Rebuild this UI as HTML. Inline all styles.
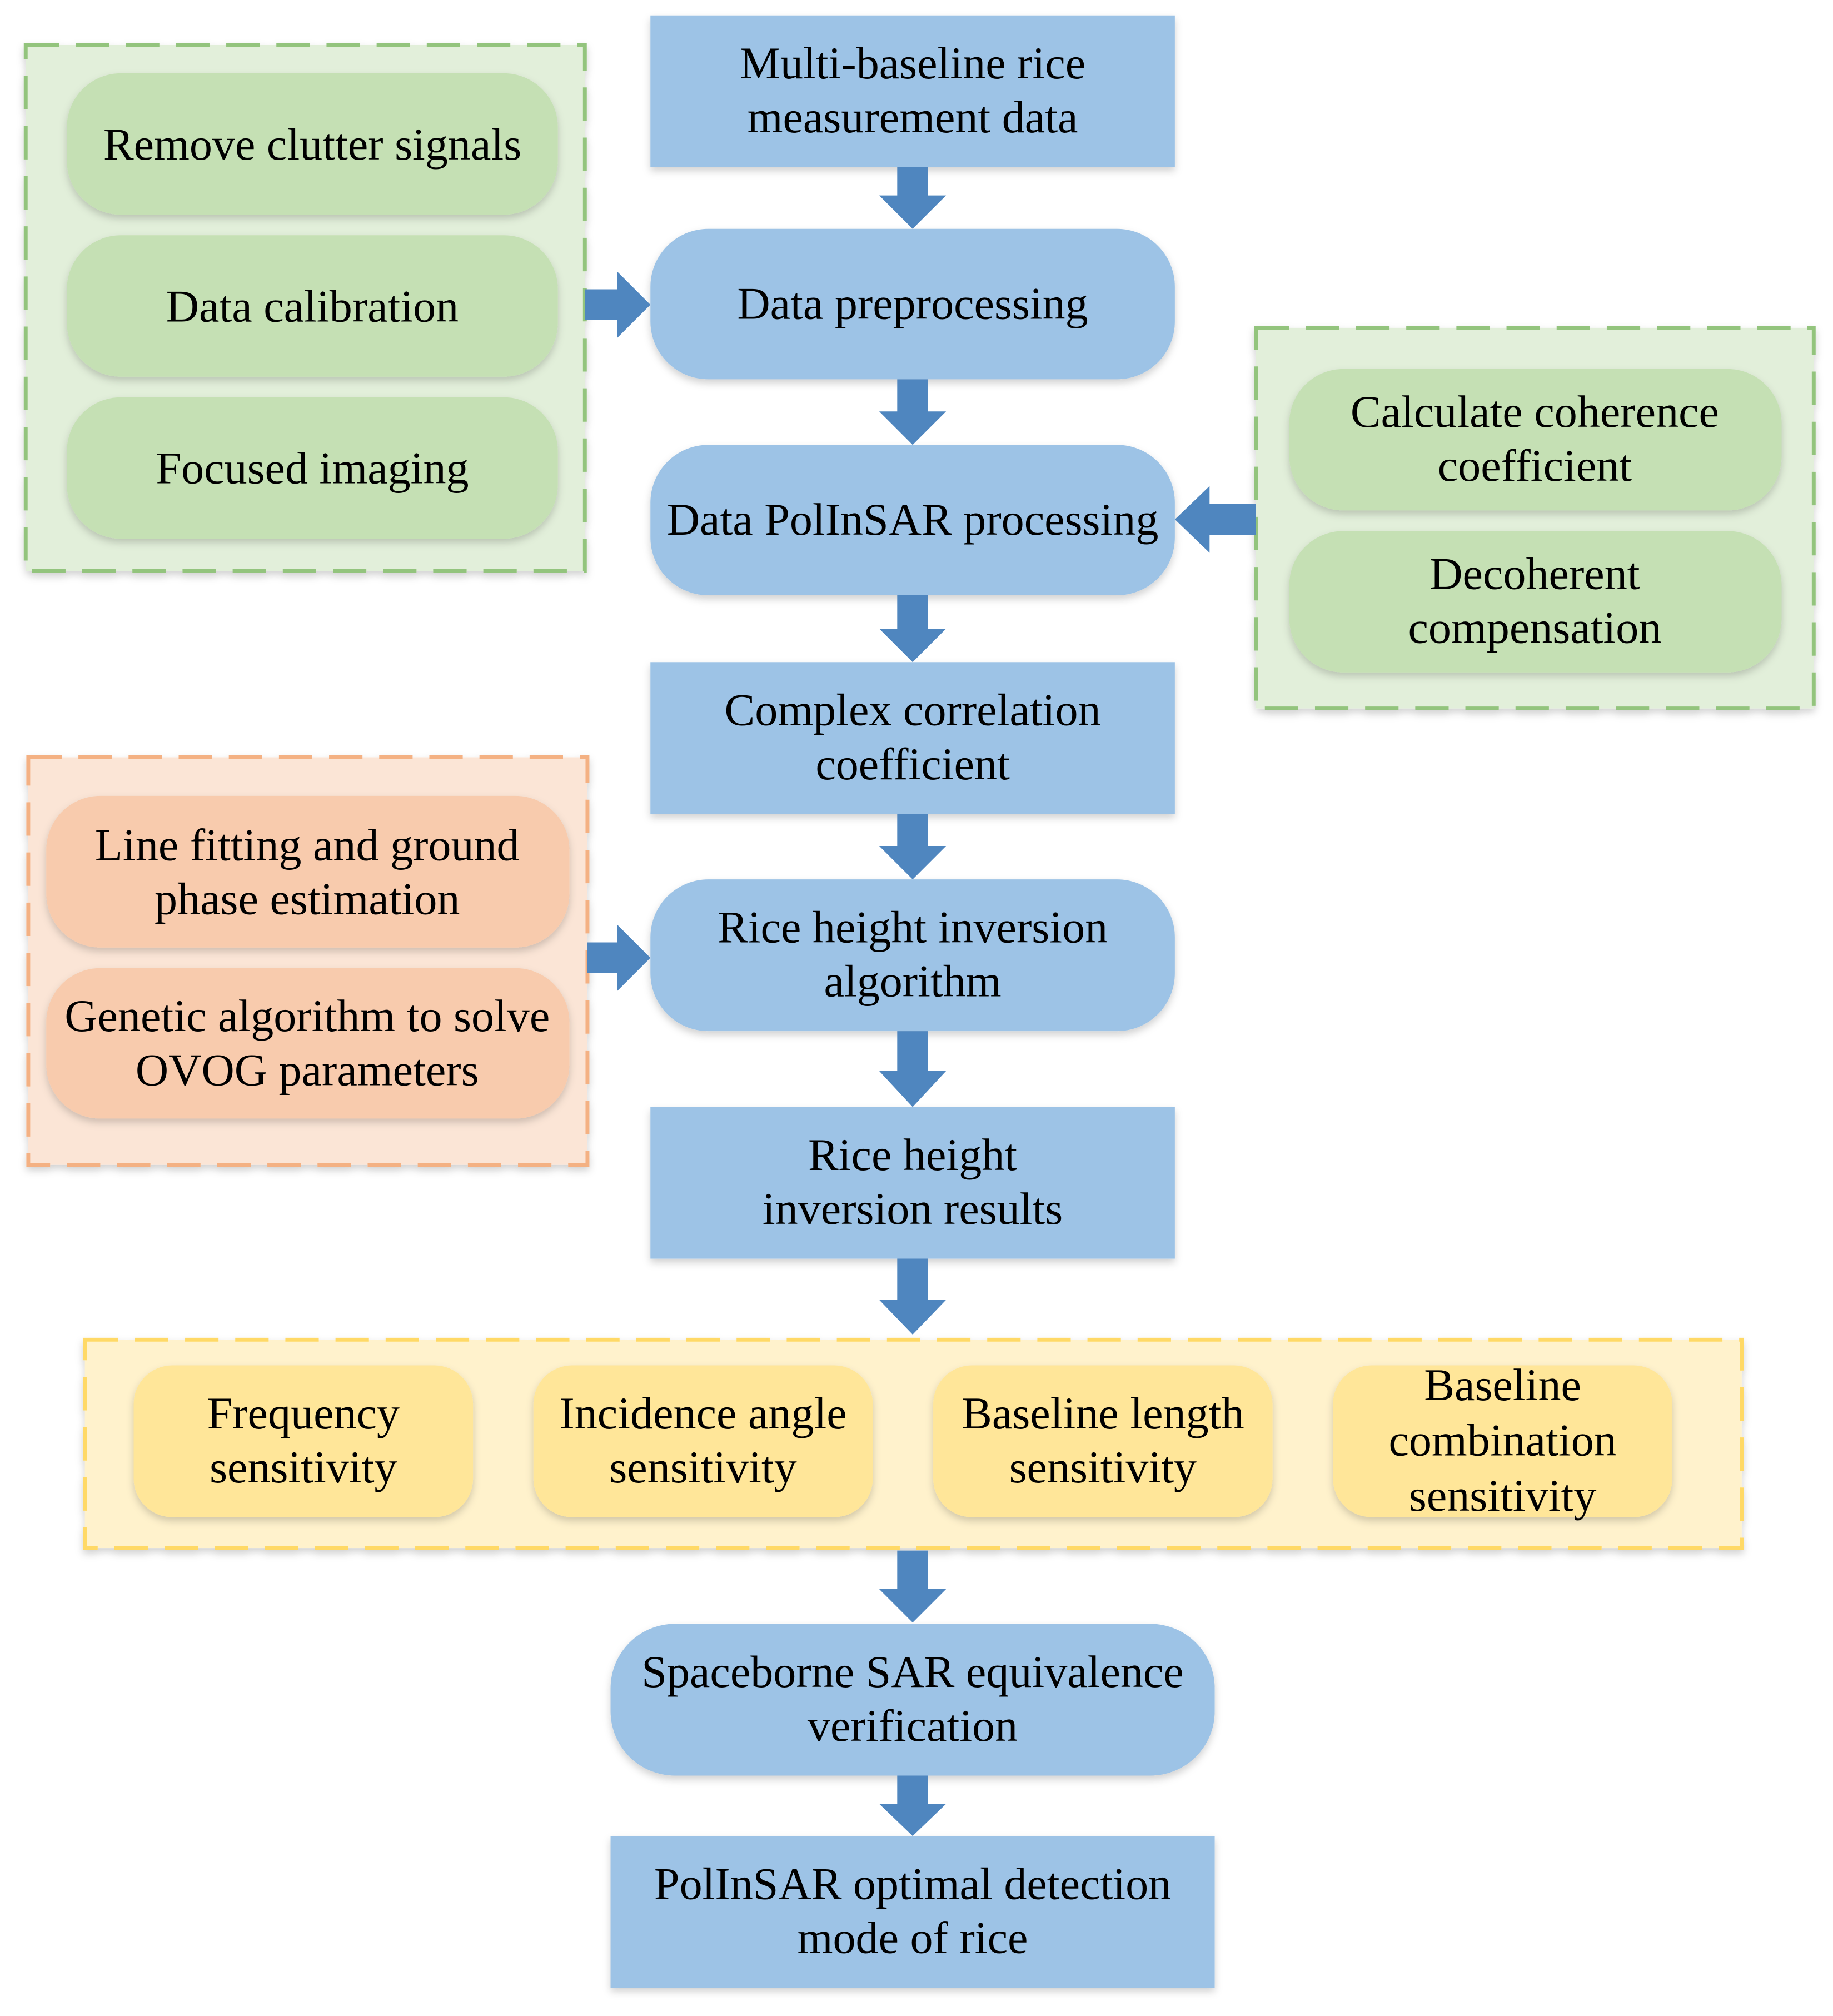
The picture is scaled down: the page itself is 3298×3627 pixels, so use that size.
<!DOCTYPE html>
<html><head><meta charset="utf-8"><style>
html,body{margin:0;padding:0;background:#fff;}
svg{display:block;}
text{font-family:"Liberation Serif",serif;font-size:35.5px;fill:#000;text-anchor:middle;}
</style></head><body>
<svg width="3298" height="3627" viewBox="0 0 1426 1568" preserveAspectRatio="none">
<defs>
<filter id="sh" x="-10%" y="-10%" width="120%" height="130%">
<feDropShadow dx="0" dy="3" stdDeviation="3" flood-color="#000" flood-opacity="0.18"/>
</filter>
</defs>
<rect x="20" y="35" width="435" height="409" fill="#e2efda" stroke="#93c47d" stroke-width="3" stroke-dasharray="26 13" filter="url(#sh)"/>
<rect x="977" y="255" width="434" height="296" fill="#e2efda" stroke="#93c47d" stroke-width="3" stroke-dasharray="26 13" filter="url(#sh)"/>
<rect x="22" y="589" width="435" height="317" fill="#fbe5d6" stroke="#f4b183" stroke-width="3" stroke-dasharray="26 13" filter="url(#sh)"/>
<rect x="66" y="1042" width="1289" height="162" fill="#fff2cc" stroke="#ffd966" stroke-width="3" stroke-dasharray="26 13" filter="url(#sh)"/>

<g filter="url(#sh)">
<rect x="52" y="57" width="382" height="110" rx="42" fill="#c5e0b4"/>
<rect x="52" y="183" width="382" height="110" rx="42" fill="#c5e0b4"/>
<rect x="52" y="309" width="382" height="110" rx="42" fill="#c5e0b4"/>
<rect x="1003" y="287" width="383" height="110" rx="42" fill="#c5e0b4"/>
<rect x="1003" y="413" width="383" height="110" rx="42" fill="#c5e0b4"/>
<rect x="36" y="619" width="407" height="118" rx="42" fill="#f8cbad"/>
<rect x="36" y="753" width="407" height="117" rx="42" fill="#f8cbad"/>
<rect x="104" y="1062" width="264" height="118" rx="30" fill="#ffe699"/>
<rect x="415" y="1062" width="264" height="118" rx="30" fill="#ffe699"/>
<rect x="726" y="1062" width="264" height="118" rx="30" fill="#ffe699"/>
<rect x="1037" y="1062" width="264" height="118" rx="30" fill="#ffe699"/>
<rect x="506" y="12" width="408" height="118" fill="#9dc3e6"/>
<rect x="506" y="178" width="408" height="117" rx="45" fill="#9dc3e6"/>
<rect x="506" y="346" width="408" height="117" rx="45" fill="#9dc3e6"/>
<rect x="506" y="515" width="408" height="118" fill="#9dc3e6"/>
<rect x="506" y="684" width="408" height="118" rx="45" fill="#9dc3e6"/>
<rect x="506" y="861" width="408" height="118" fill="#9dc3e6"/>
<rect x="475" y="1263" width="470" height="118" rx="50" fill="#9dc3e6"/>
<rect x="475" y="1428" width="470" height="118" fill="#9dc3e6"/>
</g>

<g fill="#4f86bf">
<polygon points="698,130 722,130 722,152 736,152 710,178 684,152 698,152"/>
<polygon points="698,295 722,295 722,320 736,320 710,346 684,320 698,320"/>
<polygon points="698,463 722,463 722,489 736,489 710,515 684,489 698,489"/>
<polygon points="698,633 722,633 722,658 736,658 710,684 684,658 698,658"/>
<polygon points="698,802 722,802 722,833 736,833 710,861 684,833 698,833"/>
<polygon points="698,979 722,979 722,1011 736,1011 710,1038 684,1011 698,1011"/>
<polygon points="698,1206 722,1206 722,1236 736,1236 710,1262 684,1236 698,1236"/>
<polygon points="698,1381 722,1381 722,1403 736,1403 710,1428 684,1403 698,1403"/>
<polygon points="455,225 480,225 480,211 506,237 480,263 480,249 455,249"/>
<polygon points="977,392 941,392 941,378 914,404 941,430 941,416 977,416"/>
<polygon points="457,733 480,733 480,719 506,745 480,771 480,757 457,757"/>
</g>

<text x="243" y="124">Remove clutter signals</text>
<text x="243" y="250">Data calibration</text>
<text x="243" y="376">Focused imaging</text>
<text x="1194" y="332">Calculate coherence</text>
<text x="1194" y="374">coefficient</text>
<text x="1194" y="458">Decoherent</text>
<text x="1194" y="500">compensation</text>
<text x="239" y="669">Line fitting and ground</text>
<text x="239" y="711">phase estimation</text>
<text x="239" y="802">Genetic algorithm to solve</text>
<text x="239" y="844">OVOG parameters</text>
<text x="236" y="1111">Frequency</text>
<text x="236" y="1153">sensitivity</text>
<text x="547" y="1111">Incidence angle</text>
<text x="547" y="1153">sensitivity</text>
<text x="858" y="1111">Baseline length</text>
<text x="858" y="1153">sensitivity</text>
<text x="1169" y="1089">Baseline</text>
<text x="1169" y="1132">combination</text>
<text x="1169" y="1175">sensitivity</text>
<text x="710" y="61">Multi-baseline rice</text>
<text x="710" y="103">measurement data</text>
<text x="710" y="248">Data preprocessing</text>
<text x="710" y="416">Data PolInSAR processing</text>
<text x="710" y="564">Complex correlation</text>
<text x="710" y="606">coefficient</text>
<text x="710" y="733">Rice height inversion</text>
<text x="710" y="775">algorithm</text>
<text x="710" y="910">Rice height</text>
<text x="710" y="952">inversion results</text>
<text x="710" y="1312">Spaceborne SAR equivalence</text>
<text x="710" y="1354">verification</text>
<text x="710" y="1477">PolInSAR optimal detection</text>
<text x="710" y="1519">mode of rice</text>
</svg>
</body></html>
